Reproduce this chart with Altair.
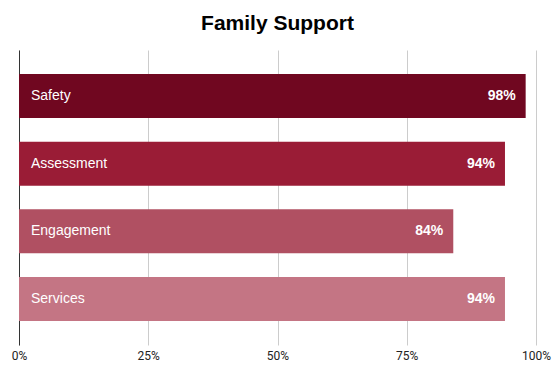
import altair as alt
import pandas as pd

categories = ["Safety", "Assessment", "Engagement", "Services"]
values = [0.98, 0.94, 0.84, 0.94]
labels = ["98%", "94%", "84%", "94%"]
colors = ["#700720", "#9a1c36", "#b05062", "#c47584"]

df = pd.DataFrame({"cat": categories, "val": values, "lab": labels})

y_enc = alt.Y("cat:N", sort=categories, title=None,
              scale=alt.Scale(paddingInner=0.35, paddingOuter=0.355),
              axis=alt.Axis(labels=False, ticks=False, grid=False, domain=True,
                            domainColor="#333333", domainWidth=1))

bars = alt.Chart(df).mark_bar().encode(
    x=alt.X("val:Q", title=None,
            scale=alt.Scale(domain=[0, 1], nice=False),
            axis=alt.Axis(values=[0, 0.25, 0.5, 0.75, 1], format=".0%",
                          grid=True, gridColor="#cccccc", domain=False, ticks=False,
                          labelFont="Roboto", labelFontSize=12, labelColor="#222222",
                          labelPadding=5, labelFlush=False, labelBound=False,
                          labelOverlap=False)),
    y=y_enc,
    color=alt.Color("cat:N", scale=alt.Scale(domain=categories, range=colors), legend=None),
)

names = alt.Chart(df).mark_text(align="left", baseline="middle", color="white",
                                font="Liberation Sans", fontSize=14).encode(
    x=alt.value(12), y=alt.Y("cat:N", sort=categories), text="cat:N")

vals = alt.Chart(df).mark_text(align="right", baseline="middle", color="white",
                               font="Liberation Sans", fontSize=14, fontWeight="bold", dx=-10).encode(
    x="val:Q", y=alt.Y("cat:N", sort=categories), text="lab:N")

chart = alt.layer(bars, names, vals).properties(
    width=517, height=295,
    title=alt.TitleParams("Family Support", font="Liberation Sans", fontSize=21,
                          fontWeight="bold", color="#000000", anchor="middle", offset=16),
    autosize=alt.AutoSizeParams(type="none"),
    padding={"left": 19, "top": 50, "right": 21, "bottom": 31},
).configure_view(stroke=None).configure_axis(gridWidth=1)

chart.save("out.html", embed_options={"renderer": "svg", "actions": False})
